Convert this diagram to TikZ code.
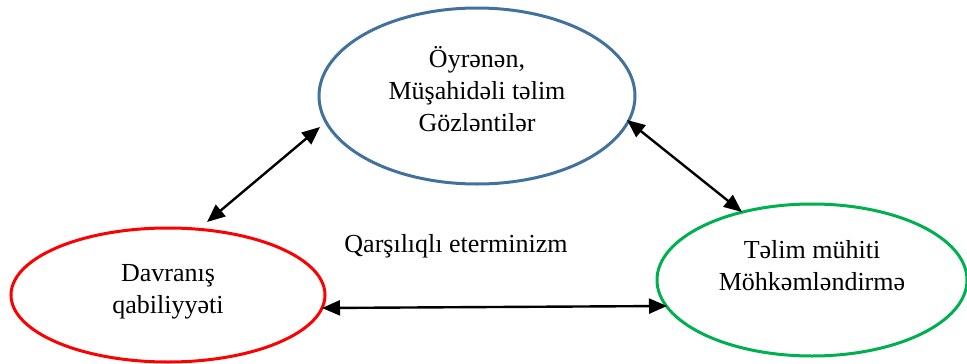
\documentclass[tikz,border=0pt]{standalone}
\usepackage{fontspec}
\setmainfont{Liberation Serif}
\usetikzlibrary{shapes.geometric,arrows.meta,calc}
\definecolor{eblue}{RGB}{65,113,156}
\definecolor{ered}{RGB}{255,0,0}
\definecolor{egreen}{RGB}{0,176,80}
\begin{document}
\begin{tikzpicture}[x=1pt,y=-1pt,
  oval/.style={ellipse,draw,line width=3pt,inner sep=0pt},
  lbl/.style={align=center,font=\fontsize{26}{32}\selectfont},
  conn/.style={{Triangle[length=18pt,width=15pt]}-{Triangle[length=18pt,width=15pt]},line width=2.4pt,black}]
\useasboundingbox (0,0) rectangle (967,364);
\node[oval,draw=eblue,minimum width=316pt,minimum height=176pt] (top) at (477,96) {};
\node[oval,draw=ered,minimum width=314pt,minimum height=134pt] (left) at (168,295) {};
\node[oval,draw=egreen,minimum width=310pt,minimum height=152pt] (right) at (812,280) {};
\node[lbl] (toptext) at (477,89) {Öyrənən,\\Müşahidəli təlim\\Gözləntilər};
\node[lbl] (lefttext) at (168,292) {Davranış\\qabiliyyəti};
\node[lbl] (righttext) at (812,266) {Təlim mühiti\\Möhkəmləndirmə};
\node[lbl] (mid) at (456,246) {Qarşılıqlı eterminizm};
\coordinate (a1) at ($(top.center)+(-157,31)$);
\coordinate (a2) at ($(left.center)+(39,-73)$);
\coordinate (b1) at ($(top.center)+(150,24)$);
\coordinate (b2) at ($(right.center)+(-70,-68)$);
\coordinate (c1) at ($(left.center)+(154,13)$);
\coordinate (c2) at ($(right.center)+(-145,26)$);
\draw[conn] (a2) -- (a1);
\draw[conn] (b1) -- (b2);
\draw[conn] (c1) -- (c2);
\end{tikzpicture}
\end{document}
